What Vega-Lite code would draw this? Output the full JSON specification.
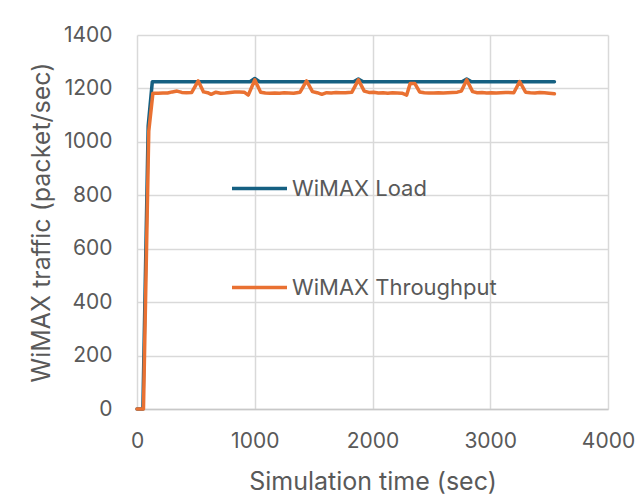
{
  "$schema": "https://vega.github.io/schema/vega-lite/v6.json",
  "width": 471,
  "height": 374,
  "autosize": "none",
  "padding": {"left": 137, "top": 35, "right": 34, "bottom": 89},
  "background": "white",
  "config": {
    "view": {"stroke": null},
    "font": "Inter",
    "axis": {
      "gridColor": "#d9d9d9",
      "gridWidth": 1.5,
      "ticks": false,
      "labelColor": "#595959",
      "titleColor": "#595959",
      "labelFont": "Inter",
      "titleFont": "Inter",
      "labelFontSize": 21,
      "titleFontSize": 25,
      "titleFontWeight": "normal"
    }
  },
  "data": {
    "values": [
      {"t": 0, "v": 0, "s": "WiMAX Load"},
      {"t": 50, "v": 0, "s": "WiMAX Load"},
      {"t": 95, "v": 1060, "s": "WiMAX Load"},
      {"t": 130, "v": 1225, "s": "WiMAX Load"},
      {"t": 960, "v": 1225, "s": "WiMAX Load"},
      {"t": 1000, "v": 1237, "s": "WiMAX Load"},
      {"t": 1040, "v": 1225, "s": "WiMAX Load"},
      {"t": 1840, "v": 1225, "s": "WiMAX Load"},
      {"t": 1880, "v": 1235, "s": "WiMAX Load"},
      {"t": 1920, "v": 1225, "s": "WiMAX Load"},
      {"t": 2760, "v": 1225, "s": "WiMAX Load"},
      {"t": 2800, "v": 1235, "s": "WiMAX Load"},
      {"t": 2840, "v": 1225, "s": "WiMAX Load"},
      {"t": 3545, "v": 1225, "s": "WiMAX Load"},

      {"t": 0, "v": 0, "s": "WiMAX Throughput"},
      {"t": 55, "v": 0, "s": "WiMAX Throughput"},
      {"t": 100, "v": 1040, "s": "WiMAX Throughput"},
      {"t": 135, "v": 1182, "s": "WiMAX Throughput"},
      {"t": 180, "v": 1182, "s": "WiMAX Throughput"},
      {"t": 220, "v": 1183, "s": "WiMAX Throughput"},
      {"t": 260, "v": 1183, "s": "WiMAX Throughput"},
      {"t": 300, "v": 1187, "s": "WiMAX Throughput"},
      {"t": 340, "v": 1190, "s": "WiMAX Throughput"},
      {"t": 380, "v": 1185, "s": "WiMAX Throughput"},
      {"t": 420, "v": 1184, "s": "WiMAX Throughput"},
      {"t": 465, "v": 1185, "s": "WiMAX Throughput"},
      {"t": 520, "v": 1228, "s": "WiMAX Throughput"},
      {"t": 565, "v": 1187, "s": "WiMAX Throughput"},
      {"t": 600, "v": 1184, "s": "WiMAX Throughput"},
      {"t": 630, "v": 1178, "s": "WiMAX Throughput"},
      {"t": 670, "v": 1186, "s": "WiMAX Throughput"},
      {"t": 710, "v": 1182, "s": "WiMAX Throughput"},
      {"t": 750, "v": 1183, "s": "WiMAX Throughput"},
      {"t": 790, "v": 1185, "s": "WiMAX Throughput"},
      {"t": 830, "v": 1187, "s": "WiMAX Throughput"},
      {"t": 870, "v": 1187, "s": "WiMAX Throughput"},
      {"t": 910, "v": 1186, "s": "WiMAX Throughput"},
      {"t": 945, "v": 1175, "s": "WiMAX Throughput"},
      {"t": 1000, "v": 1232, "s": "WiMAX Throughput"},
      {"t": 1050, "v": 1186, "s": "WiMAX Throughput"},
      {"t": 1090, "v": 1183, "s": "WiMAX Throughput"},
      {"t": 1130, "v": 1182, "s": "WiMAX Throughput"},
      {"t": 1170, "v": 1183, "s": "WiMAX Throughput"},
      {"t": 1210, "v": 1182, "s": "WiMAX Throughput"},
      {"t": 1250, "v": 1184, "s": "WiMAX Throughput"},
      {"t": 1290, "v": 1183, "s": "WiMAX Throughput"},
      {"t": 1330, "v": 1182, "s": "WiMAX Throughput"},
      {"t": 1385, "v": 1186, "s": "WiMAX Throughput"},
      {"t": 1440, "v": 1228, "s": "WiMAX Throughput"},
      {"t": 1490, "v": 1188, "s": "WiMAX Throughput"},
      {"t": 1530, "v": 1184, "s": "WiMAX Throughput"},
      {"t": 1570, "v": 1178, "s": "WiMAX Throughput"},
      {"t": 1610, "v": 1184, "s": "WiMAX Throughput"},
      {"t": 1650, "v": 1183, "s": "WiMAX Throughput"},
      {"t": 1690, "v": 1185, "s": "WiMAX Throughput"},
      {"t": 1730, "v": 1184, "s": "WiMAX Throughput"},
      {"t": 1770, "v": 1184, "s": "WiMAX Throughput"},
      {"t": 1825, "v": 1186, "s": "WiMAX Throughput"},
      {"t": 1880, "v": 1232, "s": "WiMAX Throughput"},
      {"t": 1930, "v": 1190, "s": "WiMAX Throughput"},
      {"t": 1970, "v": 1185, "s": "WiMAX Throughput"},
      {"t": 2010, "v": 1186, "s": "WiMAX Throughput"},
      {"t": 2050, "v": 1183, "s": "WiMAX Throughput"},
      {"t": 2090, "v": 1184, "s": "WiMAX Throughput"},
      {"t": 2130, "v": 1182, "s": "WiMAX Throughput"},
      {"t": 2170, "v": 1184, "s": "WiMAX Throughput"},
      {"t": 2210, "v": 1183, "s": "WiMAX Throughput"},
      {"t": 2250, "v": 1182, "s": "WiMAX Throughput"},
      {"t": 2290, "v": 1175, "s": "WiMAX Throughput"},
      {"t": 2320, "v": 1218, "s": "WiMAX Throughput"},
      {"t": 2360, "v": 1218, "s": "WiMAX Throughput"},
      {"t": 2400, "v": 1187, "s": "WiMAX Throughput"},
      {"t": 2440, "v": 1184, "s": "WiMAX Throughput"},
      {"t": 2480, "v": 1183, "s": "WiMAX Throughput"},
      {"t": 2520, "v": 1183, "s": "WiMAX Throughput"},
      {"t": 2560, "v": 1184, "s": "WiMAX Throughput"},
      {"t": 2600, "v": 1183, "s": "WiMAX Throughput"},
      {"t": 2640, "v": 1184, "s": "WiMAX Throughput"},
      {"t": 2680, "v": 1185, "s": "WiMAX Throughput"},
      {"t": 2720, "v": 1186, "s": "WiMAX Throughput"},
      {"t": 2755, "v": 1190, "s": "WiMAX Throughput"},
      {"t": 2800, "v": 1232, "s": "WiMAX Throughput"},
      {"t": 2850, "v": 1188, "s": "WiMAX Throughput"},
      {"t": 2890, "v": 1184, "s": "WiMAX Throughput"},
      {"t": 2930, "v": 1185, "s": "WiMAX Throughput"},
      {"t": 2970, "v": 1183, "s": "WiMAX Throughput"},
      {"t": 3010, "v": 1184, "s": "WiMAX Throughput"},
      {"t": 3050, "v": 1183, "s": "WiMAX Throughput"},
      {"t": 3090, "v": 1184, "s": "WiMAX Throughput"},
      {"t": 3130, "v": 1185, "s": "WiMAX Throughput"},
      {"t": 3200, "v": 1184, "s": "WiMAX Throughput"},
      {"t": 3250, "v": 1226, "s": "WiMAX Throughput"},
      {"t": 3300, "v": 1186, "s": "WiMAX Throughput"},
      {"t": 3340, "v": 1184, "s": "WiMAX Throughput"},
      {"t": 3380, "v": 1183, "s": "WiMAX Throughput"},
      {"t": 3420, "v": 1185, "s": "WiMAX Throughput"},
      {"t": 3460, "v": 1184, "s": "WiMAX Throughput"},
      {"t": 3500, "v": 1182, "s": "WiMAX Throughput"},
      {"t": 3545, "v": 1180, "s": "WiMAX Throughput"}
    ]
  },
  "mark": {"type": "line", "strokeWidth": 3.5, "strokeCap": "round", "strokeJoin": "round"},
  "encoding": {
    "x": {
      "field": "t", "type": "quantitative",
      "scale": {"domain": [0, 4000], "nice": false},
      "axis": {
        "values": [0, 1000, 2000, 3000, 4000],
        "format": "d",
        "title": "Simulation time (sec)",
        "labelPadding": 21,
        "titlePadding": 18,
        "domainColor": "#c8c8c8",
        "domainWidth": 1.5,
        "labelFlush": false
      }
    },
    "y": {
      "field": "v", "type": "quantitative",
      "scale": {"domain": [0, 1400], "nice": false},
      "axis": {
        "values": [0, 200, 400, 600, 800, 1000, 1200, 1400],
        "format": "d",
        "title": "WiMAX traffic (packet/sec)",
        "labelPadding": 25,
        "titlePadding": 9,
        "domain": false
      }
    },
    "color": {
      "field": "s", "type": "nominal",
      "scale": {"domain": ["WiMAX Load", "WiMAX Throughput"], "range": ["#156082", "#E97132"]},
      "legend": {
        "title": null,
        "orient": "none",
        "legendX": 93,
        "legendY": 124,
        "symbolType": "stroke",
        "symbolSize": 3025,
        "symbolStrokeWidth": 3.5,
        "labelFont": "Inter",
        "labelFontSize": 22,
        "labelColor": "#595959",
        "labelOffset": 3,
        "labelLimit": 400,
        "rowPadding": 58
      }
    }
  }
}
